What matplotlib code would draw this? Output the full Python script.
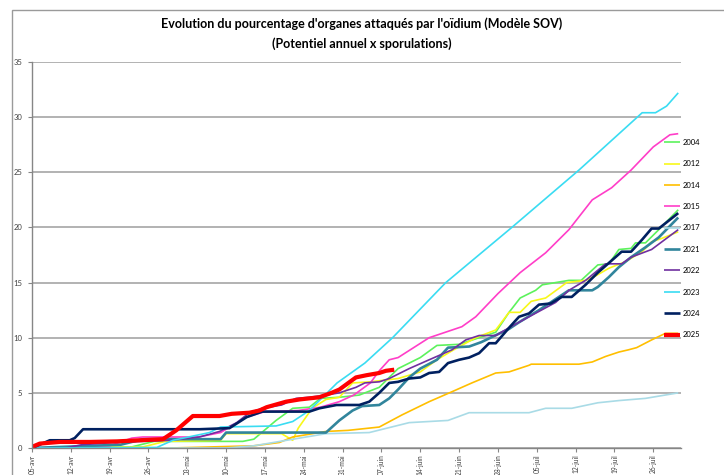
import matplotlib
matplotlib.use("Agg")
import matplotlib.pyplot as plt
from matplotlib.patches import Rectangle

plt.rcParams['font.family'] = ['Lato', 'DejaVu Sans']

# x = days since 05-avr
tick_days = [0, 7, 14, 21, 28, 35, 42, 49, 56, 63, 70, 77, 84, 91, 98, 105, 112]
tick_labels = ['05-avr', '12-avr', '19-avr', '26-avr', '03-mai', '10-mai', '17-mai',
               '24-mai', '31-mai', '07-juin', '14-juin', '21-juin', '28-juin',
               '05-juil', '12-juil', '19-juil', '26-juil']

d2004 = [0, 18, 22, 38, 40, 44, 47, 50, 52, 55.4, 59, 62.6, 66, 70, 73, 77, 80.6, 83.6, 86, 88, 90.8, 92, 96.8, 99, 102, 104, 105.8, 108, 108.8, 110.6, 113, 116.5]
v2004 = [0, 0.1, 0.6, 0.6, 0.8, 2.5, 3.6, 3.7, 4.5, 4.6, 4.8, 5.5, 7.2, 8.2, 9.3, 9.4, 10.0, 10.5, 12.3, 13.6, 14.3, 14.8, 15.2, 15.2, 16.6, 16.7, 18.0, 18.1, 18.6, 18.6, 19.8, 21.6]

d2012 = [0, 20, 24, 34, 35, 45, 47, 48, 50.5, 53, 55.4, 57.8, 61, 66, 70, 73, 76, 80, 83.6, 86, 88, 90, 92.6, 96.4, 99.8, 101.6, 104, 107, 110, 111.7, 113.5, 116.5]
v2012 = [0, 0.1, 0.6, 0.7, 1.3, 1.3, 0.7, 1.8, 3.6, 4.4, 4.6, 5.9, 6.0, 6.3, 6.9, 8.0, 8.9, 10.0, 10.7, 12.3, 12.3, 13.3, 13.6, 15.0, 15.2, 15.6, 16.3, 16.9, 17.8, 18.7, 19.0, 19.6]

d2014 = [0, 25, 40, 44.6, 47, 53, 57, 62.6, 66.7, 71.6, 75.7, 79.3, 83.6, 86, 89.6, 90, 98.6, 101, 103.4, 105.8, 107.5, 109, 111.7, 114.2, 116.5]
v2014 = [0, 0, 0.2, 0.5, 1.0, 1.5, 1.6, 1.9, 3.0, 4.2, 5.1, 5.9, 6.8, 6.9, 7.5, 7.6, 7.6, 7.8, 8.3, 8.7, 8.9, 9.1, 9.8, 10.4, 10.4]

d2015 = [0, 14, 18, 20, 30, 34, 37, 38.7, 42, 48, 52, 55.4, 58, 61, 62.6, 64.4, 66, 71.6, 77.5, 80, 84, 88, 92.6, 96.8, 101, 104.5, 108, 112, 115, 116.5]
v2015 = [0, 0.2, 0.9, 1.0, 1.0, 1.4, 2.3, 2.8, 3.3, 3.4, 3.7, 4.2, 4.8, 5.9, 7.0, 8.0, 8.2, 10.0, 11.0, 11.9, 14.0, 15.9, 17.7, 19.8, 22.5, 23.6, 25.2, 27.3, 28.4, 28.5]

d2017 = [0, 35, 40, 53, 60.8, 68, 75, 78.8, 89.6, 92.6, 97.3, 102, 105.8, 110.6, 116.5]
v2017 = [0, 0, 0.2, 1.3, 1.4, 2.3, 2.5, 3.2, 3.2, 3.6, 3.6, 4.1, 4.3, 4.5, 5.0]

d2021 = [0, 16, 20, 34, 35, 53, 55.4, 57.8, 59.5, 62.6, 64.4, 66, 68, 70, 73, 75, 78.8, 81, 86, 87.8, 91.4, 96.8, 101, 102, 104, 105.8, 108, 110.6, 113, 116.5]
v2021 = [0, 0.3, 0.8, 0.8, 1.4, 1.4, 2.5, 3.4, 3.8, 3.9, 4.5, 5.3, 6.4, 7.2, 8.0, 9.1, 9.2, 9.6, 10.8, 11.4, 12.5, 14.3, 14.3, 14.6, 15.5, 16.4, 17.3, 18.2, 19.1, 20.9]

d2022 = [0, 6, 9, 15, 25, 30.2, 33.8, 36.9, 39.2, 41.5, 45, 47.6, 50, 53, 55.4, 58.4, 60, 62.6, 64.4, 68, 71.6, 75.7, 78.2, 80.6, 83.6, 86, 89.6, 94.4, 96.8, 99.8, 103.4, 106.3, 108, 111.7, 116.5]
v2022 = [0, 0, 0.3, 0.5, 0.7, 1.0, 1.5, 2.3, 3.2, 3.6, 3.9, 4.5, 4.6, 4.8, 5.0, 5.5, 5.9, 6.0, 6.3, 7.2, 8.0, 8.9, 9.8, 10.2, 10.2, 10.9, 11.9, 13.2, 14.3, 15.2, 16.7, 16.7, 17.3, 18.0, 19.8]

d2023 = [0, 22.5, 25.4, 32, 34, 44, 47, 50, 55, 60, 65, 74.6, 86.5, 98.6, 110, 112.4, 114.4, 116.5]
v2023 = [0, 0.05, 0.7, 1.4, 1.9, 2.0, 2.4, 3.4, 5.9, 7.7, 10.0, 15.0, 20.0, 25.2, 30.4, 30.4, 31.0, 32.2]

d2024 = [0, 1.4, 3.2, 6.8, 7.7, 9.2, 30.2, 35.6, 38.7, 41.5, 50, 51.8, 54.9, 59, 60.8, 62.6, 64.4, 66, 68, 70, 71.6, 73.4, 75, 77, 78.8, 80.6, 82.4, 83.6, 86, 87.8, 89.6, 91.4, 93.5, 95.5, 97.3, 99.8, 102, 104.5, 106.3, 108, 110, 111.7, 113, 116.5]
v2024 = [0, 0.3, 0.7, 0.7, 0.9, 1.7, 1.7, 1.8, 2.8, 3.3, 3.3, 3.6, 3.9, 3.9, 4.2, 5.0, 5.9, 6.0, 6.3, 6.4, 6.8, 6.9, 7.7, 8.0, 8.2, 8.6, 9.5, 9.5, 10.9, 11.9, 12.2, 13.0, 13.1, 13.7, 13.7, 14.8, 15.9, 17.0, 17.8, 17.8, 18.9, 19.9, 19.9, 21.3]

d2025 = [0, 1.4, 5, 10.4, 15.3, 19.4, 23.6, 26, 29, 33.8, 36, 39.2, 41, 42.3, 45.8, 48.2, 51.8, 54, 55.4, 58.4, 60.3, 62.6, 63.8, 65.3]
v2025 = [0.1, 0.4, 0.55, 0.55, 0.6, 0.7, 0.8, 1.6, 2.9, 2.9, 3.1, 3.2, 3.4, 3.7, 4.2, 4.4, 4.6, 5.0, 5.3, 6.4, 6.6, 6.8, 7.0, 7.1]

series = [
    ('2004', d2004, v2004, '#5cf25c', 1.2),
    ('2012', d2012, v2012, '#f8f81a', 1.2),
    ('2014', d2014, v2014, '#ffbf00', 1.2),
    ('2015', d2015, v2015, '#ff3ec8', 1.2),
    ('2017', d2017, v2017, '#a9dbe6', 1.2),
    ('2021', d2021, v2021, '#31859c', 1.9),
    ('2022', d2022, v2022, '#7030a0', 1.2),
    ('2023', d2023, v2023, '#3adcf2', 1.2),
    ('2024', d2024, v2024, '#002060', 1.9),
    ('2025', d2025, v2025, '#ff0000', 3.0),
]

fig = plt.figure(figsize=(7.24, 4.75), dpi=100)
# chart frame
fig.patches.append(Rectangle((12 / 724, -0.1), 1.2, 1 - 10 / 475 + 0.1, transform=fig.transFigure,
                             fill=False, edgecolor='#9a9a9a', linewidth=1.0))
ax = fig.add_axes([32 / 724, 1 - 448 / 475, (681 - 32) / 724, (448 - 62) / 475])

for name, d, v, c, lw in series:
    ax.plot(d, v, color=c, lw=lw, label=name, solid_joinstyle='round', solid_capstyle='butt')

ax.set_xlim(0, 117)
ax.set_ylim(0, 35)
ax.set_yticks(range(0, 36, 5))
ax.set_xticks(tick_days)
ax.set_xticklabels(tick_labels, rotation=90, fontsize=4.8, color='#404040')
ax.tick_params(axis='y', labelsize=5.5, labelcolor='#404040', length=3, color='#868686', pad=4)
ax.tick_params(axis='x', length=3, color='#868686', pad=1.5)
ax.grid(axis='y', color='#a6a6a6', lw=1.2)
ax.set_axisbelow(True)
for s in ['top', 'right']:
    ax.spines[s].set_visible(False)
for s in ['left', 'bottom']:
    ax.spines[s].set_color('#868686')
    ax.spines[s].set_linewidth(1.0)

fig.text(0.5, 1 - 24 / 475, "Evolution du pourcentage d'organes attaqués par l'oïdium (Modèle SOV)",
         ha='center', va='center', fontsize=9, fontweight='bold')
fig.text(0.5, 1 - 44 / 475, "(Potentiel annuel x sporulations)",
         ha='center', va='center', fontsize=9, fontweight='bold')

leg = ax.legend(loc='upper left', bbox_to_anchor=(664 / 724, 1 - 139 / 475), bbox_transform=fig.transFigure,
                frameon=False, fontsize=5.5, handlelength=2.1, handletextpad=0.3,
                labelspacing=1.88, borderpad=0, borderaxespad=0)

fig.savefig('out.png', dpi=100)
